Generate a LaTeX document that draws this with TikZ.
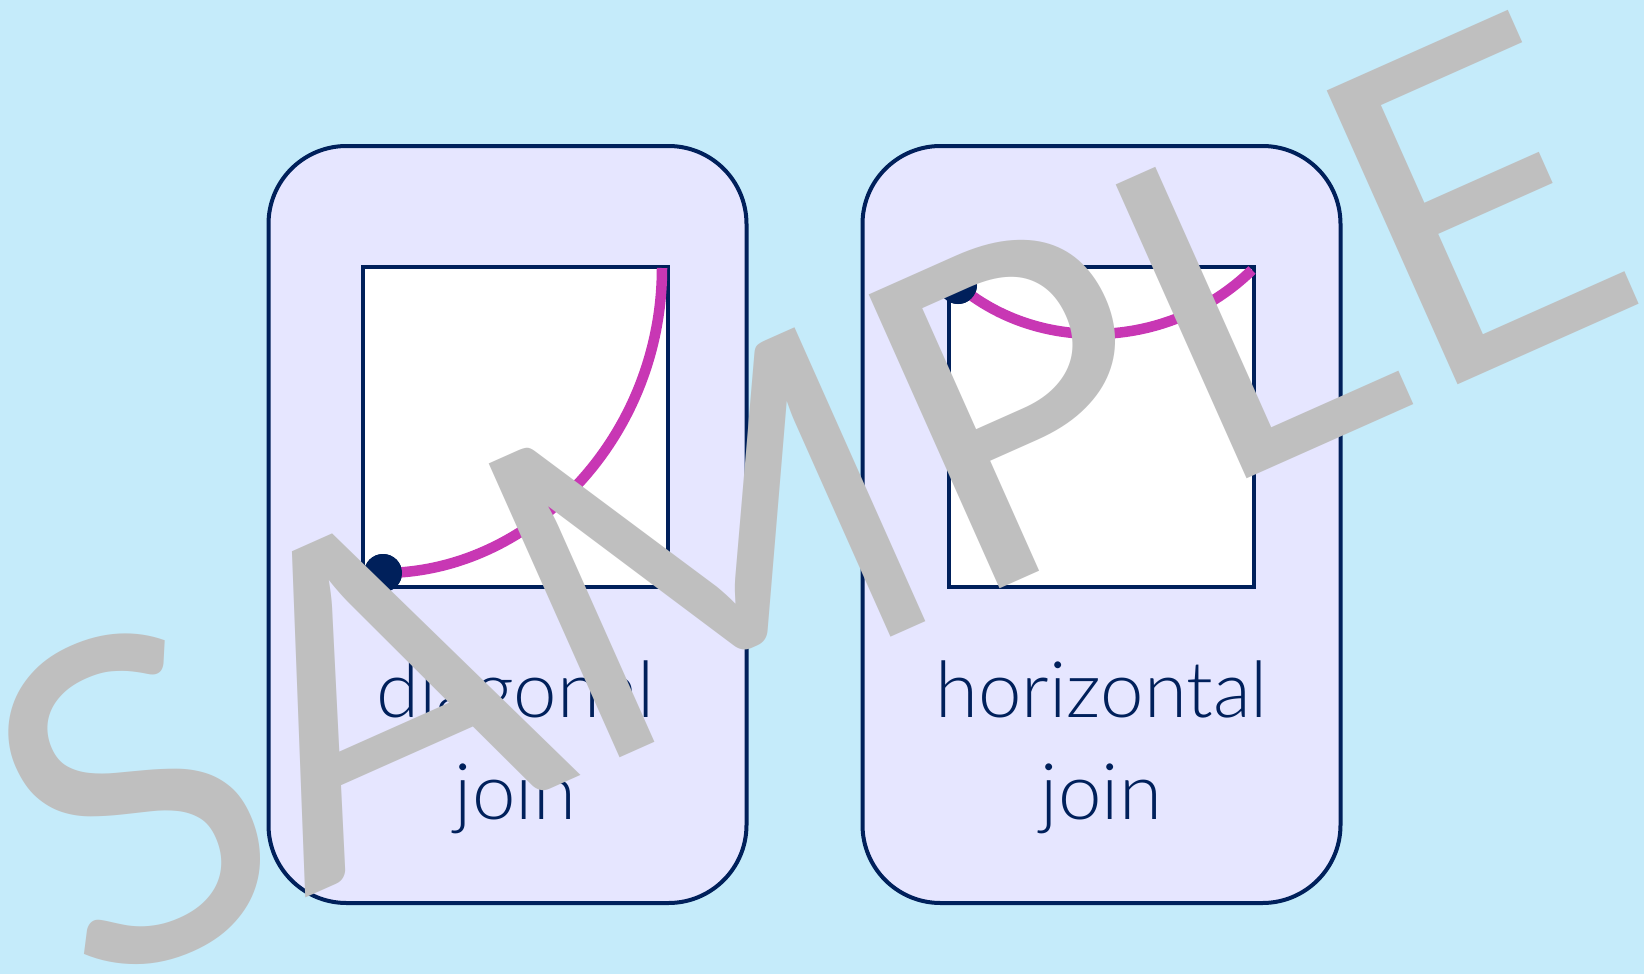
\documentclass[tikz,border=0pt]{standalone}
\usepackage{fontspec}
\setmainfont{Lato}
\newfontfamily\thinfont{Lato Light}
\usetikzlibrary{positioning}
\definecolor{skyback}{RGB}{197,235,250}
\definecolor{cardfill}{RGB}{230,230,255}
\definecolor{navy}{RGB}{0,32,91}
\definecolor{joinpink}{RGB}{200,55,180}
\definecolor{markgray}{RGB}{191,191,191}
\tikzset{x=1pt, y=-1pt,
  card/.style={draw=navy, line width=4pt, fill=cardfill, rounded corners=78pt,
    minimum width=478pt, minimum height=757pt, inner sep=0pt},
  tile/.style={draw=navy, line width=4pt, fill=white,
    minimum width=305pt, minimum height=320pt, inner sep=0pt},
  joint/.style={circle, fill=navy, minimum size=38pt, inner sep=0pt},
  curve/.style={draw=joinpink, line width=10.5pt},
  joinlabel/.style={text=navy, inner sep=0pt, align=center,
    font=\thinfont\fontsize{78}{102}\selectfont},
  watermark/.style={text=markgray, inner sep=0pt, rotate=24,
    font=\fontsize{449}{449}\selectfont}}

\begin{document}
\begin{tikzpicture}

           \fill[skyback] (0,0) rectangle (1644,974);
           \useasboundingbox (0,0) rectangle (1644,974);

           \node[card] (cardD) at (507.5,524.5) {};
           \node[card] (cardH) at (1101.5,524.5) {};
           \node[tile] (tileD) at (515.5,427) {};
           \node[tile] (tileH) at (1101.5,427) {};

           \node[joinlabel, below=72pt of tileD] (textD) {diagonal\\join};
           \node[joinlabel, below=72pt of tileH] (textH) {horizontal\\join};

           % the two joins
           \coordinate (endD) at (662,268);
           \coordinate (endH) at (1252,270);
           \node[joint] (dotD) at (383,573) {};
           \node[joint] (dotH) at (958,285) {};
           \draw[curve] (dotD.center) .. controls (532,573) and (662,436) .. (endD);
           \draw[curve] (dotH.center) .. controls (1040,355) and (1170,350) .. (endH);
           \node[joint] at (dotD) {};
           \node[joint] at (dotH) {};

           \node[watermark] (sample) at (806,499) {SAMPLE};

         \end{tikzpicture}
\end{document}
